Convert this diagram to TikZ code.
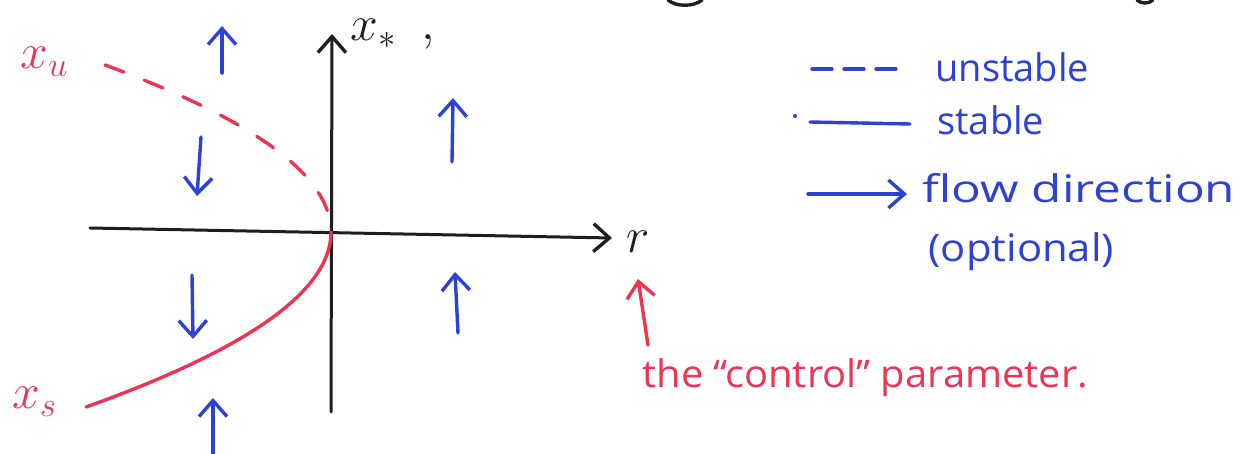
\documentclass[tikz,border=0pt]{standalone}
\usepackage{fontspec}
\setmainfont{Open Sans}
\usetikzlibrary{arrows.meta}
\definecolor{penblue}{RGB}{45,65,215}
\definecolor{penred}{RGB}{238,52,84}
\definecolor{penblack}{RGB}{30,30,30}
\begin{document}
\begin{tikzpicture}[x=0.5pt,y=-0.5pt,
  pen/.style={line width=1.7pt, line cap=round, line join=round},
  barb/.style={-{Straight Barb[length=8pt,width=14pt,line width=1.7pt]}},
  flow/.style={pen, draw=penblue, barb},
  axisline/.style={pen, draw=penblack, line width=1.5pt, barb},
  branch/.style={pen, draw=penred},
  handtext/.style={inner sep=0pt, font=\fontsize{19}{22}\selectfont},
  bluetext/.style={handtext, text=penblue, anchor=base west},
  redtext/.style={handtext, text=penred, anchor=base west},
  mathlabel/.style={inner sep=0pt, font=\fontsize{26}{28}\selectfont}]
\useasboundingbox (0,0) rectangle (1243,454);
\fill[white] (0,0) rectangle (1243,454);

% cut-off fragments at the top edge
\draw[pen, draw=penblack] (668,0) .. controls (676,7) and (694,7) .. (702,0);
\draw[pen, draw=penblack] (1137,0) .. controls (1141,4) and (1149,4) .. (1153,0);

% axes
\coordinate (o) at (331,232);
\coordinate (xl) at (90,228);
\coordinate (xr) at (612,238);
\coordinate (vb) at (331,412);
\coordinate (vt) at (332,34);
\draw[axisline] (xl) -- (xr);
\draw[axisline] (vb) -- (vt);
\node[mathlabel, text=penblack, anchor=west] (rlab) at (626,242) {$r$};
\node[mathlabel, text=penblack, anchor=west] (xstar) at (350,34) {$x_{*}$};
\node[mathlabel, text=penblack, anchor=base west] (comma) at (421,40) {$,$};

% bifurcation branches
\draw[branch, dash pattern=on 10pt off 11pt]
  plot[domain=-1.67:0, samples=50] ({331-81*\x*\x},{232+100*\x});
\draw[branch]
  plot[domain=0:1.75, samples=50] ({331-80*\x*\x},{232+100*\x});
\node[mathlabel, text=penred, anchor=west] (xu) at (20,62) {$x_u$};
\node[mathlabel, text=penred, anchor=west] (xs) at (12,402) {$x_s$};

% flow arrows
\coordinate (a1t) at (222,73);  \coordinate (a1h) at (222,26);
\coordinate (a2t) at (201,137); \coordinate (a2h) at (197,196);
\coordinate (a3t) at (192,275); \coordinate (a3h) at (193,339);
\coordinate (a4t) at (213,454); \coordinate (a4h) at (213,398);
\coordinate (a5t) at (452,162); \coordinate (a5h) at (453,98);
\coordinate (a6t) at (458,333); \coordinate (a6h) at (455,272);
\foreach \i in {1,...,6} \draw[flow] (a\i t) -- (a\i h);

% legend
\coordinate (l1a) at (812,69);  \coordinate (l1b) at (905,69);
\coordinate (l2a) at (810,122); \coordinate (l2b) at (910,124);
\coordinate (l3a) at (808,194); \coordinate (l3b) at (907,194);
\draw[pen, draw=penblue, dash pattern=on 10pt off 6pt] (l1a) -- (l1b);
\draw[pen, draw=penblue] (l2a) -- (l2b);
\fill[penblue] (795,116) circle (1pt);
\draw[flow] (l3a) -- (l3b);
\node[bluetext] (unst) at (935,82) {unstable};
\node[bluetext] (stab) at (937,135) {stable};
\node[bluetext, xscale=1.3] (flowd) at (922,203) {flow direction};
\node[bluetext, xscale=1.1] (opt) at (928,262) {(optional)};

% control parameter note
\coordinate (ct) at (648,345);
\coordinate (ch) at (638,279);
\draw[pen, draw=penred, barb] (ct) -- (ch);
\node[redtext, xscale=1.05] (ctrl) at (642,387) {the ``control'' parameter.};
\end{tikzpicture}
\end{document}
